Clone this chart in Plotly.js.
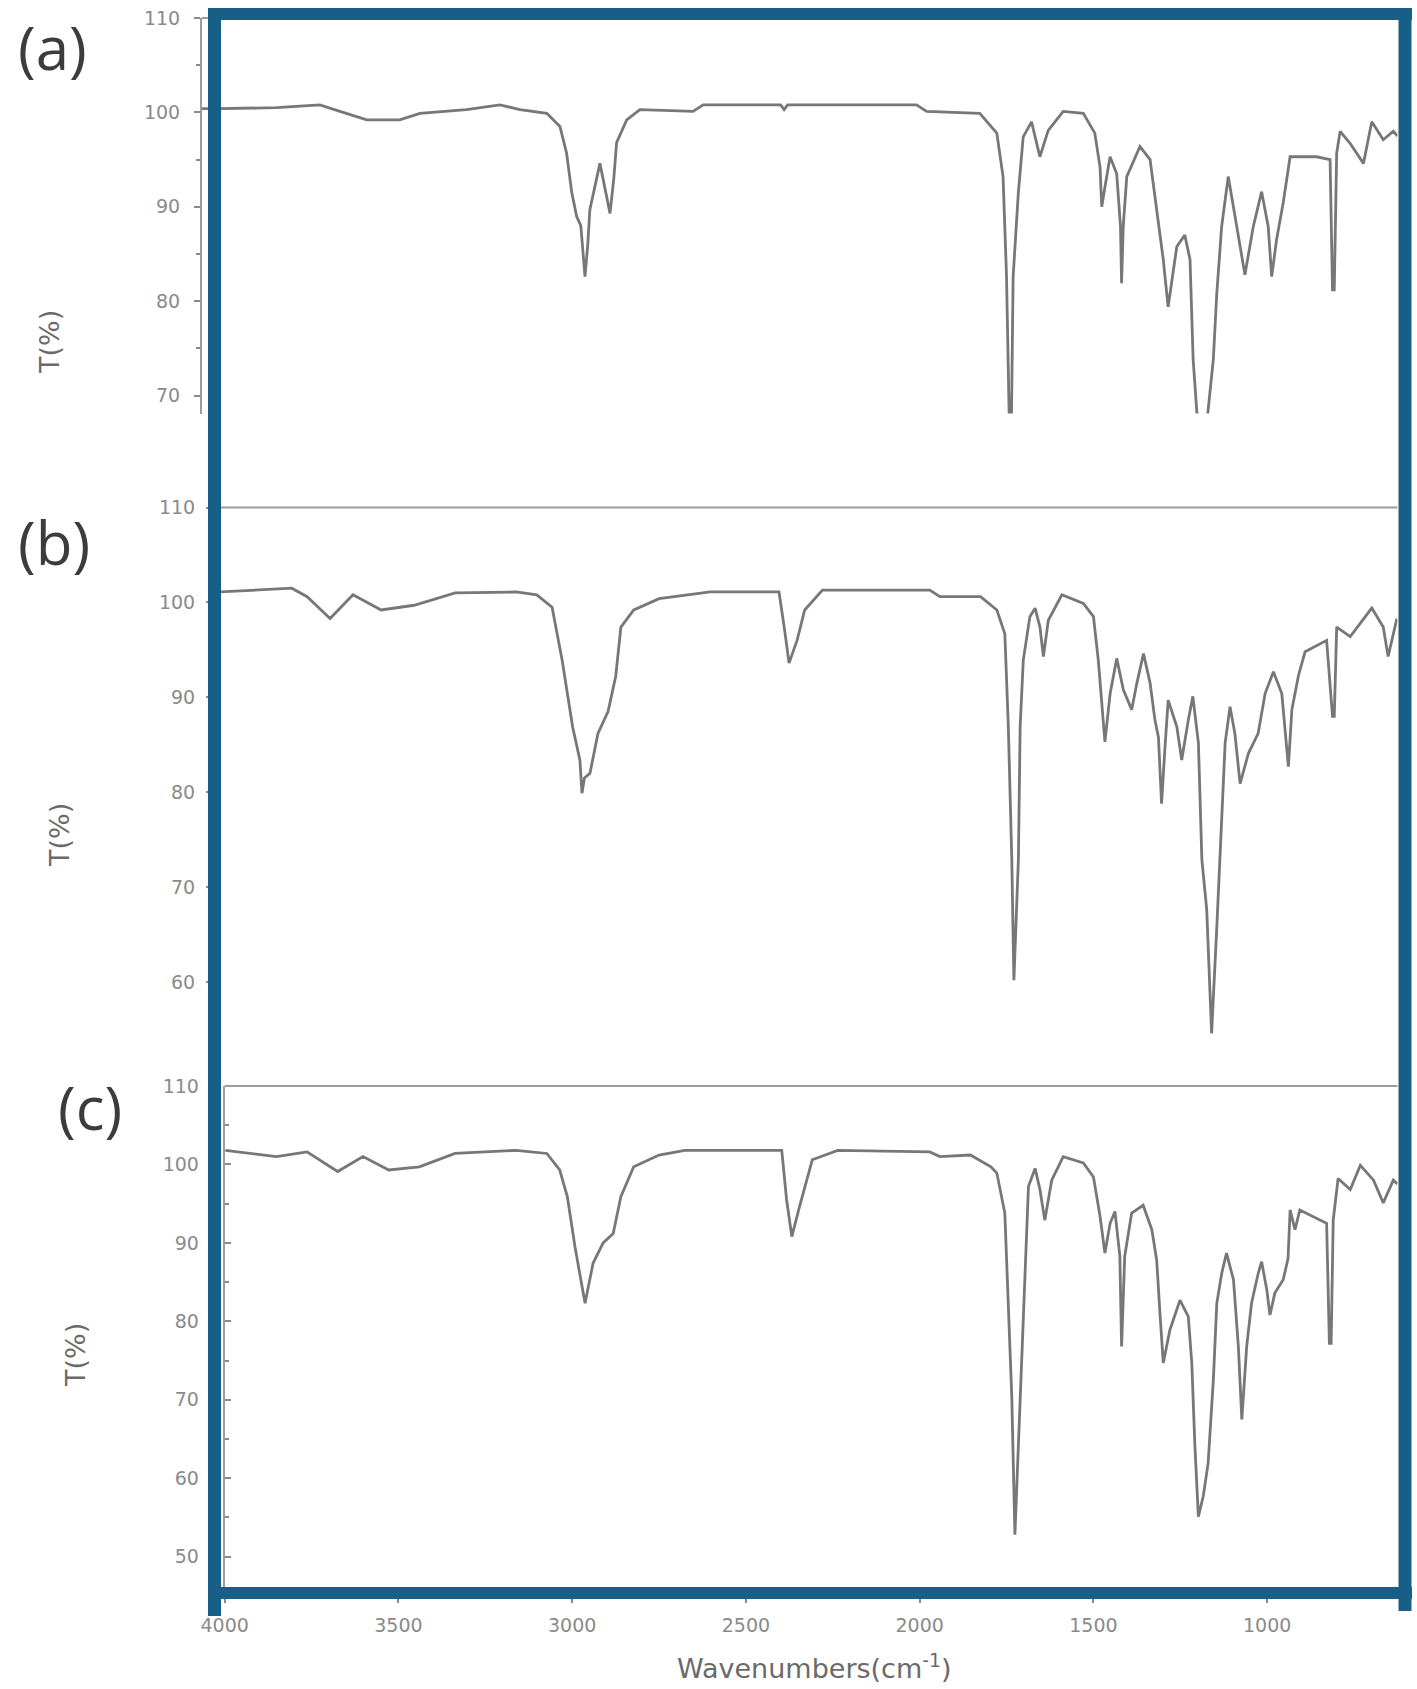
<!DOCTYPE html>
<html>
<head>
<meta charset="utf-8">
<script src="https://cdn.plot.ly/plotly-3.0.1.min.js"></script>
<style>html,body{margin:0;padding:0;background:#fff;}#chart{width:1417px;height:1689px;}</style>
</head>
<body>
<div id="chart"></div>
<script>
// ---- Data ----
const panelLabels = ['(a)', '(b)', '(c)'];
const yTitle = 'T(%)';
const xTitle = 'Wavenumbers(cm<sup>-1</sup>)';

const xTickVals = [4000, 3500, 3000, 2500, 2000, 1500, 1000];
const xTickText = ['4000', '3500', '3000', '2500', '2000', '1500', '1000'];
const yTickValsA = [70, 80, 90, 100, 110];
const yTickValsB = [60, 70, 80, 90, 100, 110];
const yTickValsC = [50, 60, 70, 80, 90, 100, 110];

// Spectrum (a)
const wnA = [4065,4013,3850,3726,3668,3591,3496,3438,3304,3208,3150,3073,3035,3016,3001,2987,2975,2963,2955,2949,2920,2905,2891,2880,2872,2843,2805,2652,2623,2400,2390,2380,2009,1980,1827,1778,1760,1750,1742,1736,1731,1716,1702,1678,1654,1630,1587,1529,1496,1481,1476,1465,1452,1433,1422,1419,1414,1404,1366,1337,1313,1299,1285,1260,1237,1222,1213,1200,1174,1155,1145,1131,1112,1088,1064,1040,1016,997,987,973,954,934,906,858,819,812,807,800,790,761,723,699,666,637,625];
const tA  = [100.4,100.4,100.5,100.8,100.1,99.2,99.2,99.9,100.3,100.8,100.3,99.9,98.5,95.7,91.5,89.0,88.0,82.6,86.0,89.7,94.6,92.0,89.3,93.0,96.8,99.2,100.3,100.1,100.8,100.8,100.3,100.8,100.8,100.1,99.9,97.8,93.2,82.6,67,67,82.6,91.5,97.4,99.0,95.3,98.1,100.1,99.9,97.8,94.2,90.0,92.5,95.3,93.5,87.9,81.9,88.0,93.2,96.4,95.0,88.6,84.4,79.4,85.8,87.0,84.4,73.8,67,67,73.8,80.8,87.9,93.2,87.9,82.8,87.9,91.6,87.9,82.6,86.5,90.4,95.3,95.3,95.3,95.0,81.2,81.2,95.7,98.0,96.7,94.6,99.0,97.1,98.0,97.5];

// Spectrum (b)
const wnB = [4031,4012,3807,3763,3697,3631,3550,3455,3337,3162,3102,3058,3029,2999,2978,2972,2965,2949,2926,2897,2875,2860,2823,2750,2603,2405,2390,2376,2353,2331,2280,1971,1942,1825,1778,1755,1745,1735,1729,1716,1711,1702,1683,1668,1654,1644,1630,1591,1529,1500,1486,1467,1452,1433,1414,1390,1375,1356,1337,1323,1313,1304,1294,1285,1260,1246,1227,1214,1198,1188,1174,1160,1145,1131,1121,1107,1093,1078,1054,1026,1006,982,958,939,929,910,891,829,812,807,800,761,699,666,652,628,625];
const tB  = [101.1,101.1,101.5,100.6,98.3,100.8,99.2,99.7,101.0,101.1,100.8,99.5,93.9,86.9,83.4,79.9,81.5,82.0,86.2,88.5,92.2,97.4,99.2,100.4,101.1,101.1,97.4,93.6,96.0,99.2,101.3,101.3,100.6,100.6,99.2,96.7,86.9,72.9,60.2,72.9,86.9,93.9,98.5,99.4,97.4,94.3,98.1,100.8,99.9,98.5,93.9,85.3,90.4,94.1,90.8,88.7,91.5,94.6,91.5,87.6,85.8,78.8,84.8,89.7,86.9,83.4,87.6,90.1,85.2,72.9,67.6,54.6,65.8,76.4,85.2,89.0,86.2,80.9,84.1,86.2,90.4,92.7,90.4,82.7,88.7,92.3,94.8,96.0,88.0,88.0,97.4,96.4,99.4,97.4,94.3,98.1,98.0];

// Spectrum (c)
const wnC = [3998,3851,3763,3675,3602,3528,3440,3337,3161,3073,3036,3014,2992,2963,2940,2911,2882,2860,2823,2750,2676,2397,2383,2368,2346,2309,2236,1971,1942,1854,1795,1778,1755,1745,1735,1726,1711,1697,1687,1668,1654,1640,1620,1587,1529,1500,1481,1467,1452,1438,1424,1419,1410,1390,1357,1332,1318,1308,1299,1280,1251,1227,1217,1208,1198,1184,1170,1155,1145,1131,1117,1097,1083,1073,1059,1045,1026,1016,1001,992,978,954,940,934,920,906,858,829,821,816,810,796,761,732,694,666,637,625];
const tC  = [101.8,101.0,101.6,99.1,101.0,99.3,99.7,101.4,101.8,101.4,99.3,95.9,89.5,82.3,87.4,90.0,91.2,95.9,99.7,101.2,101.8,101.8,95.5,90.8,94.6,100.6,101.8,101.6,101.0,101.2,99.7,98.9,93.8,83.2,70.4,52.8,70.4,85.3,97.2,99.5,96.8,92.9,98.0,101.0,100.2,98.4,93.4,88.7,92.5,94.0,88.3,76.8,88.3,93.8,94.8,91.7,87.8,80.6,74.7,78.9,82.7,80.6,74.7,64.1,55.1,57.7,61.9,72.5,82.3,86.1,88.7,85.3,76.8,67.5,76.8,82.3,86.1,87.6,84.0,80.8,83.6,85.3,88.0,94.2,91.7,94.2,93.1,92.5,77.2,77.2,92.9,98.2,96.8,99.9,98.0,95.1,98.0,97.5];

// ---- Layout helpers (pixel positions -> paper fractions) ----
const W = 1417, H = 1689;
const PX = v => v / W;
const PY = v => 1 - v / H;

const lineColor = '#777777';
const axisColor = '#9c9c9c';
const tickFont = {family: 'DejaVu Sans, Verdana, sans-serif', size: 19, color: '#8a8a8a'};
const blue = '#185f88';

function trace(x, y, xa, ya) {
  return {x: x, y: y, xaxis: xa, yaxis: ya, type: 'scatter', mode: 'lines',
          line: {color: lineColor, width: 2.8}, hoverinfo: 'skip'};
}

const data = [
  trace(wnA, tA, 'x', 'y'),
  trace(wnB, tB, 'x2', 'y2'),
  trace(wnC, tC, 'x3', 'y3')
];

function hidX(domain, range, anchor) {
  return {domain: domain, range: range, anchor: anchor, showline: false, showgrid: false,
          zeroline: false, ticks: '', showticklabels: false, fixedrange: true};
}
function yAx(domain, range, anchor, tickvals, ticksDir, standoff) {
  return {domain: domain, range: range, anchor: anchor, showgrid: false, zeroline: false,
          showline: true, linecolor: axisColor, linewidth: 2,
          ticks: ticksDir, ticklen: 6, tickwidth: 2, tickcolor: '#8a8a8a',
          tickmode: 'array', tickvals: tickvals, ticktext: tickvals.map(String),
          minor: {dtick: 5, tick0: 0, ticks: ticksDir, ticklen: 4, tickwidth: 2, tickcolor: '#8a8a8a'},
          tickfont: tickFont, ticklabelstandoff: standoff, fixedrange: true};
}

function ann(text, px, py, size, color, angle) {
  return {text: text, xref: 'paper', yref: 'paper', x: PX(px), y: PY(py),
          xanchor: 'center', yanchor: 'middle', showarrow: false, textangle: angle || 0,
          font: {family: size > 40 ? 'Open Sans, sans-serif' : 'DejaVu Sans, sans-serif', size: size, color: color}};
}

const layout = {
  width: W, height: H,
  margin: {l: 0, r: 0, t: 0, b: 0},
  paper_bgcolor: '#ffffff', plot_bgcolor: 'rgba(0,0,0,0)',
  showlegend: false,
  xaxis:  hidX([PX(202), PX(1397.5)], [4065, 625], 'y'),
  xaxis2: hidX([PX(214), PX(1397.5)], [4031, 625], 'y2'),
  xaxis3: {domain: [PX(224.7), PX(1397.5)], range: [4000, 625], anchor: 'y3',
           showgrid: false, zeroline: false, showline: true, linecolor: axisColor, linewidth: 2,
           ticks: 'outside', ticklen: 9, tickwidth: 2, tickcolor: '#8a8a8a',
           tickmode: 'array', tickvals: xTickVals, ticktext: xTickText,
           minor: {dtick: 250, tick0: 0, ticks: 'outside', ticklen: 5, tickwidth: 2, tickcolor: '#9a9a9a'},
           tickfont: tickFont, ticklabelstandoff: 6, fixedrange: true},
  yaxis:  yAx([PY(413.5), PY(18)], [68.1, 110], 'x', yTickValsA, 'outside', 10),
  yaxis2: yAx([PY(1039), PY(507.5)], [54, 110], 'x2', yTickValsB, 'outside', 7),
  yaxis3: yAx([PY(1592), PY(1086)], [45.5, 110], 'x3', yTickValsC, 'inside', 20),
  shapes: [
    // top frame lines of each panel
    {type: 'line', xref: 'x domain', yref: 'y domain', x0: 0, x1: 1, y0: 1, y1: 1, line: {color: axisColor, width: 2}},
    {type: 'line', xref: 'x2 domain', yref: 'y2 domain', x0: 0, x1: 1, y0: 1, y1: 1, line: {color: axisColor, width: 2}},
    {type: 'line', xref: 'x3 domain', yref: 'y3 domain', x0: 0, x1: 1, y0: 1, y1: 1, line: {color: axisColor, width: 2}},
    // blue outline
    {type: 'line', xref: 'paper', yref: 'paper', x0: PX(208), x1: PX(1412), y0: PY(14), y1: PY(14), line: {color: blue, width: 12}},
    {type: 'line', xref: 'paper', yref: 'paper', x0: PX(208), x1: PX(1412), y0: PY(1593), y1: PY(1593), line: {color: blue, width: 12}},
    {type: 'line', xref: 'paper', yref: 'paper', x0: PX(214.5), x1: PX(214.5), y0: PY(8), y1: PY(1616), line: {color: blue, width: 13}},
    {type: 'line', xref: 'paper', yref: 'paper', x0: PX(1405), x1: PX(1405), y0: PY(8), y1: PY(1611), line: {color: blue, width: 13}}
  ],
  annotations: [
    ann(panelLabels[0], 52, 47, 60, '#3c3c3c'),
    ann(panelLabels[1], 54, 542, 60, '#3c3c3c'),
    ann(panelLabels[2], 90, 1107, 60, '#3c3c3c'),
    ann(yTitle, 50, 342, 27, '#6a6a6a', -90),
    ann(yTitle, 60, 835, 27, '#6a6a6a', -90),
    ann(yTitle, 75, 1355, 27, '#6a6a6a', -90),
    {text: xTitle, xref: 'paper', yref: 'paper', x: PX(814), y: PY(1686), xanchor: 'center', yanchor: 'bottom',
     showarrow: false, font: {family: 'DejaVu Sans, sans-serif', size: 27, color: '#6a6a6a'}}
  ]
};

Plotly.newPlot('chart', data, layout, {staticPlot: true, displayModeBar: false});
</script>
</body>
</html>
